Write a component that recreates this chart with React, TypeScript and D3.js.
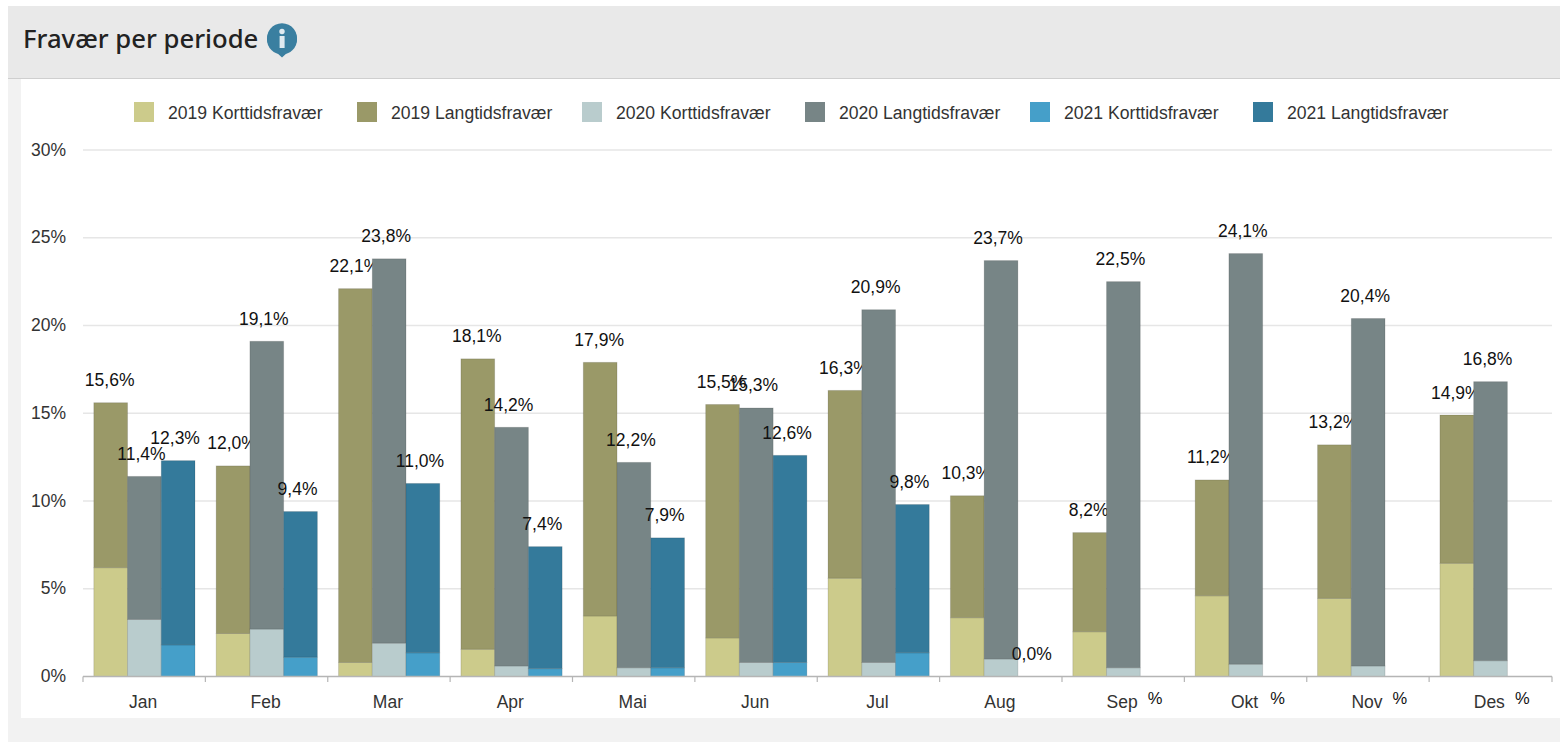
import React from "react";
import * as d3 from "d3";

const months = ["Jan","Feb","Mar","Apr","Mai","Jun","Jul","Aug","Sep","Okt","Nov","Des"];
const years = ["2019","2020","2021"];
const short2019 = [6.2,2.45,0.8,1.55,3.45,2.2,5.6,3.35,2.55,4.6,4.45,6.45];
const long2019 = [9.4,9.55,21.3,16.55,14.45,13.3,10.7,6.95,5.65,6.6,8.75,8.45];
const short2020 = [3.25,2.7,1.9,0.6,0.5,0.8,0.8,1.0,0.5,0.7,0.6,0.9];
const long2020 = [8.15,16.4,21.9,13.6,11.7,14.5,20.1,22.7,22.0,23.4,19.8,15.9];
const short2021: (number|null)[] = [1.8,1.1,1.35,0.45,0.5,0.8,1.35,0,null,null,null,null];
const long2021: (number|null)[] = [10.5,8.3,9.65,6.95,7.4,11.8,8.45,0,null,null,null,null];
const yTicks = [0,5,10,15,20,25,30];
const legendNames = ["2019 Korttidsfravær","2019 Langtidsfravær","2020 Korttidsfravær","2020 Langtidsfravær","2021 Korttidsfravær","2021 Langtidsfravær"];
const legendX = [134,357,582,805,1030,1253];
const labelShift = [-1,-3,-3];
const colors = ["#cccb8b","#9a9968","#b9cccd","#778586","#459fc9","#347a9b"];

const seriesPairs = [[short2019,long2019],[short2020,long2020],[short2021,long2021]];
const FONT = "'Liberation Sans', Arial, sans-serif";

export default function App() {
  const x = d3.scaleBand<string>().domain(months).range([83,1551.5]);
  const y = d3.scaleLinear().domain([0,30]).range([676.5,150]);
  const group = d3.scaleBand<string>().domain(years).range([10.8,112]);
  const fmt = (v:number)=>v.toFixed(1).replace(".",",")+"%";
  return (
    <svg width={1560} height={742} style={{position:"fixed",left:0,top:0,background:"#fff"}}>
      <rect x={8} y={6} width={1552} height={736} fill="#f2f2f2"/>
      <rect x={8} y={6} width={1552} height={72} fill="#e9e9e9"/>
      <rect x={8} y={78} width={1552} height={1} fill="#cfcfcf"/>
      <rect x={21} y={79} width={1539} height={639} fill="#fff"/>
      <text x={23} y={48} fontFamily="'Noto Sans', 'Open Sans', sans-serif" fontSize={25.7} fontWeight={500} fill="#222">Fravær per periode</text>
      <path d="M282 57.5 L276 52 A15 15 0 1 1 288 52 Z" fill="#3a7fa0"/>
      <circle cx={282} cy={39.5} r={15} fill="#3a7fa0"/>
      <rect x={279.6} y={36} width={5} height={12} fill="#dfeaf0"/>
      <circle cx={282} cy={31.5} r={2.7} fill="#dfeaf0"/>

      {legendNames.map((n,i)=>(
        <g key={n}>
          <rect x={legendX[i]} y={102} width={20} height={20} fill={colors[i]}/>
          <text x={legendX[i]+34} y={119} fontFamily={FONT} fontSize={17.6} fill="#333">{n}</text>
        </g>
      ))}

      {yTicks.map(t=>(
        <g key={t}>
          {t>0 && <line x1={83} x2={1552} y1={y(t)} y2={y(t)} stroke="#e6e6e6" strokeWidth={1.4}/>}
          <text x={66} y={y(t)+5.5} textAnchor="end" fontFamily={FONT} fontSize={17.5} fill="#333">{t}%</text>
        </g>
      ))}

      {months.map((m,mi)=>years.map((yr,yi)=>{
        const [s,l] = seriesPairs[yi];
        const sv = s[mi], lv = l[mi];
        const bx = x(m)!+group(yr)!;
        const w = group.bandwidth();
        const cx = bx+w/2;
        if (sv===null||lv===null) {
          return <text key={yr} x={cx-2} y={703.5} textAnchor="middle" fontFamily={FONT} fontSize={16.5} fill="#111">%</text>;
        }
        const stack = d3.stack<number>().keys(["a","b"]).value((_,k)=>k==="a"?sv:lv)([0]);
        return (
          <g key={yr}>
            {stack.map((st,k)=>{
              const [y0,y1] = st[0];
              if (y1===y0) return null;
              return <rect key={k} x={bx} width={w} y={y(y1)} height={y(y0)-y(y1)} fill={colors[yi*2+k]} stroke="#000" strokeOpacity={0.12} strokeWidth={1}/>;
            })}
            <text x={cx+labelShift[yi]} y={y(sv+lv)-16.5} textAnchor="middle" fontFamily={FONT} fontSize={17.5} fill="#111">{fmt(sv+lv)}</text>
          </g>
        );
      }))}

      <line x1={83} x2={1552} y1={676.5} y2={676.5} stroke="#b5b5b5" strokeWidth={1.4}/>
      {[...months.map(m=>x(m)!),1552].map((t,i)=>(
        <line key={i} x1={t} x2={t} y1={676.5} y2={682} stroke="#b5b5b5" strokeWidth={1.2}/>
      ))}
      {months.map(m=>(
        <text key={m} x={x(m)!+x.bandwidth()/2-1} y={708} textAnchor="middle" fontFamily={FONT} fontSize={17.5} fill="#333">{m}</text>
      ))}
    </svg>
  );
}
